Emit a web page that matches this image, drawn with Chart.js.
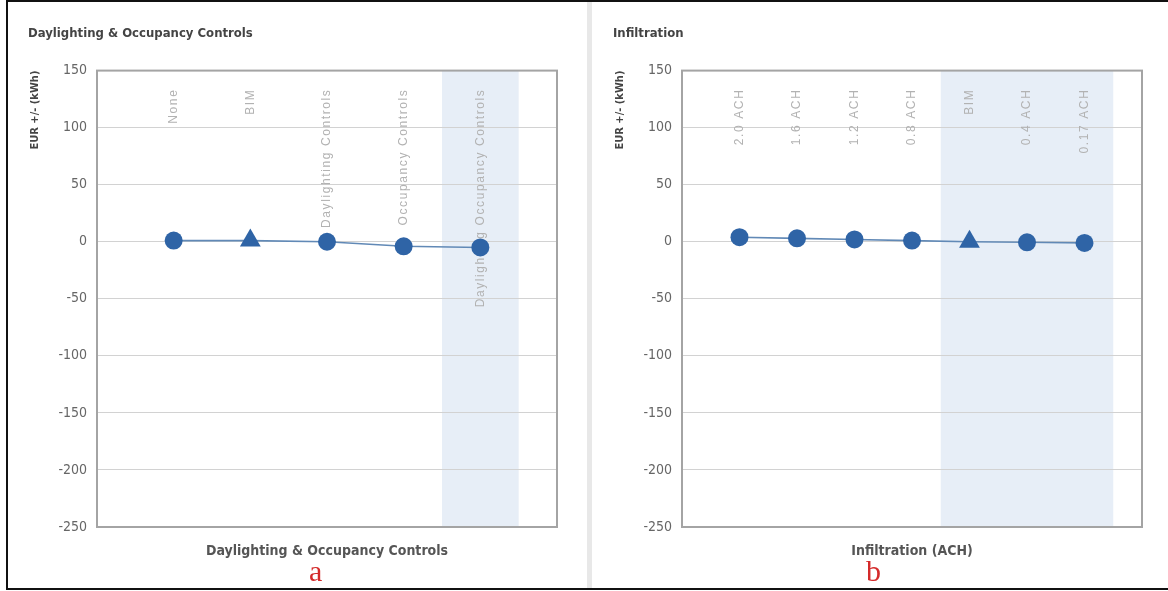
<!DOCTYPE html>
<html>
<head>
<meta charset="utf-8">
<script src="https://cdn.jsdelivr.net/npm/chart.js@4.4.1/dist/chart.umd.min.js"></script>
<style>
  html, body { margin: 0; padding: 0; background: #ffffff; }
  #stage { position: relative; width: 1168px; height: 591px; overflow: hidden; background: #fff; }
  .frame-l { position: absolute; left: 6px; top: 0; width: 2px; height: 590px; background: #111; }
  .frame-t { position: absolute; left: 6px; top: 0; width: 1162px; height: 2px; background: #111; }
  .frame-b { position: absolute; left: 6px; top: 588px; width: 1162px; height: 2px; background: #111; }
  .divider { position: absolute; left: 587px; top: 2px; width: 5px; height: 586px; background: #e8e8e8; }
  .pane { position: absolute; top: 0; height: 588px; }
  .cap { position: absolute; font-family: "Liberation Serif", "Times New Roman", serif; font-size: 30px; color: #d42a2a; line-height: 1; }
</style>
</head>
<body>
<div id="stage">
  <div class="frame-l"></div>
  <div class="frame-t"></div>
  <div class="frame-b"></div>
  <div class="divider"></div>
  <div class="pane" style="left:7px;width:580px;"><canvas id="c1" width="580" height="588"></canvas></div>
  <div class="pane" style="left:592px;width:576px;"><canvas id="c2" width="576" height="588"></canvas></div>
  <div class="cap" style="left:309px;top:556px;">a</div>
  <div class="cap" style="left:866px;top:556px;">b</div>
</div>
<script>
// ---- data ----
const leftTitle = "Daylighting & Occupancy Controls";
const leftAxisTitle = "Daylighting & Occupancy Controls";
const leftCategories = ["None", "BIM", "Daylighting Controls", "Occupancy Controls", "Daylighting Occupancy Controls"];
const leftValues = [1, 1, 0, -4, -5];
const leftHighlight = ["Daylighting Occupancy Controls"];

const rightTitle = "Infiltration";
const rightAxisTitle = "Infiltration (ACH)";
const rightCategories = ["2.0 ACH", "1.6 ACH", "1.2 ACH", "0.8 ACH", "BIM", "0.4 ACH", "0.17 ACH"];
const rightValues = [4, 3, 2, 1, 0, -0.5, -1];
const rightHighlight = ["BIM", "0.4 ACH", "0.17 ACH"];

const yAxisTitle = "EUR +/- (kWh)";
const yMin = -250, yMax = 150, yStep = 50;
const baselineMarker = "BIM";

// ---- style ----
const NARROW = '"Liberation Sans Narrow", "Arial Narrow", "DejaVu Sans Condensed", "Liberation Sans", sans-serif';
const MARK = '#2f64a6';
const LINE = '#6189b6';
const BAND = '#e7eef7';

const panelPlugin = {
  id: 'panelDeco',
  beforeDraw(chart, args, opts) {
    const {ctx, chartArea: a, scales: {x}} = chart;
    const cats = opts.categories;
    const hi = opts.highlight.map(h => cats.indexOf(h)).filter(i => i >= 0);
    if (!hi.length) return;
    const lo = Math.min(...hi) + 1, up = Math.max(...hi) + 1;
    const x0 = x.getPixelForValue(lo - 0.5), x1 = x.getPixelForValue(up + 0.5);
    ctx.save();
    ctx.fillStyle = BAND;
    ctx.fillRect(x0, a.top, x1 - x0, a.bottom - a.top);
    ctx.restore();
  },
  beforeDatasetsDraw(chart, args, opts) {
    const {ctx, chartArea: a, scales: {x}} = chart;
    ctx.save();
    ctx.fillStyle = '#b2b2b2';
    ctx.font = '12px "Liberation Sans", Arial, sans-serif';
    try { ctx.letterSpacing = '1.6px'; } catch (e) {}
    ctx.textAlign = 'right';
    ctx.textBaseline = 'middle';
    opts.categories.forEach((c, i) => {
      const px = x.getPixelForValue(i + 1);
      ctx.save();
      ctx.translate(px, a.top + 18);
      ctx.rotate(-Math.PI / 2);
      ctx.fillText(c, 0, 0);
      ctx.restore();
    });
    ctx.restore();
  },
  afterDatasetsDraw(chart) {
    const {ctx, chartArea: a} = chart;
    ctx.save();
    ctx.strokeStyle = '#a4a4a4';
    ctx.lineWidth = 2;
    ctx.strokeRect(a.left, a.top, a.right - a.left, a.bottom - a.top);
    ctx.restore();
  }
};

function makeChart(id, title, axisTitle, cats, vals, highlight, padRight) {
  const pts = vals.map((v, i) => ({x: i + 1, y: v}));
  const styles = cats.map(c => c === baselineMarker ? 'triangle' : 'circle');
  const radii = cats.map(c => c === baselineMarker ? 12 : 9);
  return new Chart(document.getElementById(id), {
    type: 'line',
    data: {
      datasets: [{
        data: pts,
        borderColor: LINE,
        borderWidth: 1.6,
        backgroundColor: MARK,
        pointBackgroundColor: MARK,
        pointBorderColor: MARK,
        pointBorderWidth: 0,
        pointStyle: styles,
        pointRadius: radii,
        tension: 0
      }]
    },
    options: {
      responsive: false,
      animation: false,
      events: [],
      layout: { padding: { left: 21, right: padRight, top: 0, bottom: 21 } },
      plugins: {
        legend: { display: false },
        tooltip: { enabled: false },
        title: {
          display: true, text: title, align: 'start', color: '#444',
          font: { family: NARROW, size: 13, weight: 'bold' },
          padding: { top: 26, bottom: 29 }
        },
        panelDeco: { categories: cats, highlight: highlight }
      },
      scales: {
        x: {
          type: 'linear', min: 0, max: cats.length + 1,
          grid: { display: false },
          border: { display: false },
          ticks: { display: false },
          title: {
            display: true, text: axisTitle, color: '#555',
            font: { family: NARROW, size: 14, weight: 'bold' },
            padding: { top: 0, bottom: 7 }
          },
          afterFit(s) { s.height = 40; }
        },
        y: {
          min: yMin, max: yMax,
          grid: { color: '#d2d2d2', lineWidth: 1, drawTicks: false },
          border: { display: false },
          ticks: {
            stepSize: yStep, padding: 10, color: '#666',
            font: { family: NARROW, size: 14 }
          },
          title: {
            display: true, text: yAxisTitle, align: 'end', color: '#444',
            font: { family: NARROW, size: 11, weight: 'bold' },
            padding: { top: 1, bottom: 0 }
          },
          afterFit(s) { s.width = 69; }
        }
      }
    },
    plugins: [panelPlugin]
  });
}

makeChart('c1', leftTitle, leftAxisTitle, leftCategories, leftValues, leftHighlight, 30);
makeChart('c2', rightTitle, rightAxisTitle, rightCategories, rightValues, rightHighlight, 26);
</script>
</body>
</html>
